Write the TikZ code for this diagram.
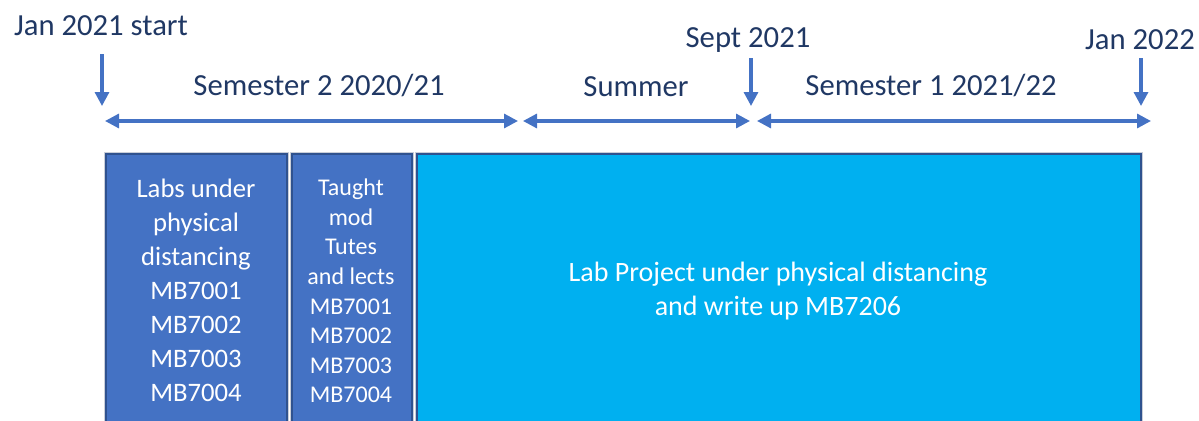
\documentclass[tikz,border=0pt]{standalone}
\usepackage{fontspec}
\setmainfont{Carlito}
\usetikzlibrary{arrows.meta}
\definecolor{arrowblue}{HTML}{4472C4}
\definecolor{labelblue}{HTML}{203864}
\definecolor{boxblue}{HTML}{4472C4}
\definecolor{boxcyan}{HTML}{00B0F0}
\definecolor{boxedge}{HTML}{2F528F}
\definecolor{boxhalo}{HTML}{C9CED8}
\begin{document}
\begin{tikzpicture}[x=0.75pt,y=-0.75pt,
  tick/.style={arrowblue,line width=2.4pt,-{Triangle[length=10.5pt,width=10.5pt]}},
  span/.style={arrowblue,line width=2.4pt,{Triangle[length=10.5pt,width=10.5pt]}-{Triangle[length=10.5pt,width=10.5pt]}},
  datelbl/.style={inner sep=0pt,text=labelblue,font=\fontsize{23}{27}\selectfont},
  periodlbl/.style={inner sep=0pt,text=labelblue,font=\fontsize{23}{27}\selectfont},
  blkline/.style={draw=boxedge,line width=1pt}]
\useasboundingbox (0,0) rectangle (1199,421);
% dates
\node[datelbl] (jan21) at (101,26) {Jan 2021 start};
\node[datelbl] (sep21) at (748,40) {Sept 2021};
\node[datelbl] (jan22) at (1140,40) {Jan 2022};
\coordinate (jan21top) at (102,54);
\coordinate (jan21end) at (102,106);
\coordinate (sep21top) at (751,58);
\coordinate (sep21end) at (751,106);
\coordinate (jan22top) at (1141,58);
\coordinate (jan22end) at (1141,106);
\draw[tick] (jan21top) -- (jan21end);
\draw[tick] (sep21top) -- (sep21end);
\draw[tick] (jan22top) -- (jan22end);
% periods
\coordinate (semAleft) at (105,121);
\coordinate (semAright) at (518,121);
\coordinate (sumleft) at (523,121);
\coordinate (sumright) at (750,121);
\coordinate (semBleft) at (757,121);
\coordinate (semBright) at (1151,121);
\draw[span] (semAleft) -- (semAright);
\draw[span] (sumleft) -- (sumright);
\draw[span] (semBleft) -- (semBright);
\node[periodlbl] (semA) at (319,86) {Semester 2 2020/21};
\node[periodlbl] (summer) at (636,87) {Summer};
\node[periodlbl] (semB) at (931,86) {Semester 1 2021/22};
% blocks
\fill[boxhalo] (104,152) rectangle (289,425);
\fill[boxhalo] (290,152) rectangle (414,425);
\fill[boxhalo] (415,152) rectangle (1143,425);
\filldraw[fill=boxblue,blkline] (106,154) rectangle (287,425);
\filldraw[fill=boxblue,blkline] (292,154) rectangle (412,425);
\filldraw[fill=boxcyan,blkline] (417,154) rectangle (1141,425);
\node[text=white,align=center,inner sep=0pt,
  font=\fontsize{20}{25.5}\selectfont] (labs) at (196,290)
  {Labs under\\physical\\distancing\\MB7001\\MB7002\\MB7003\\MB7004};
\node[text=white,align=center,inner sep=0pt,
  font=\fontsize{18}{22.2}\selectfont] (taught) at (351,291)
  {Taught\\mod\\Tutes\\and lects\\MB7001\\MB7002\\MB7003\\MB7004};
\node[text=white,align=center,inner sep=0pt,
  font=\fontsize{21}{26}\selectfont] (project) at (778,291)
  {Lab Project under physical distancing\\and write up MB7206};
\end{tikzpicture}
\end{document}
